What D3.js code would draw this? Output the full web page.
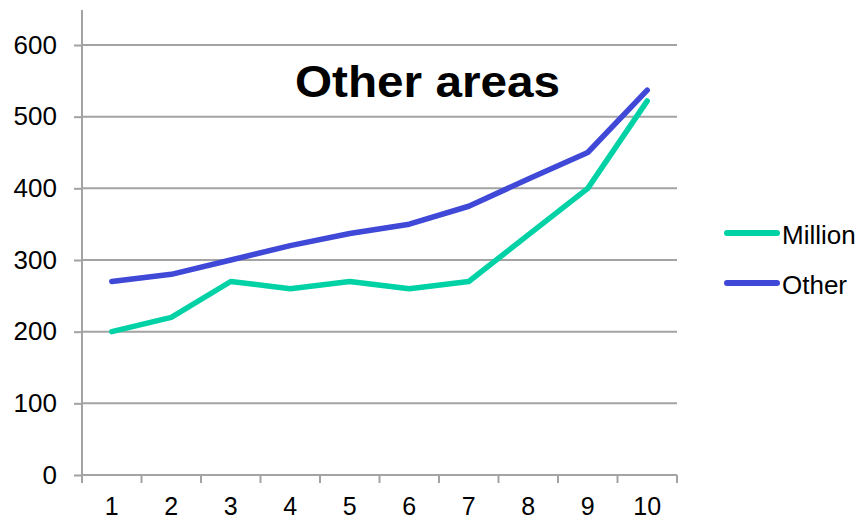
<!DOCTYPE html>
<html>
<head>
<meta charset="utf-8">
<script src="https://cdn.jsdelivr.net/npm/d3@7/dist/d3.min.js"></script>
<style>
  html, body { margin: 0; padding: 0; background: #fff; }
  svg { display: block; font-family: "Liberation Sans", Arial, sans-serif; }
</style>
</head>
<body>
<svg id="chart" width="860" height="522"></svg>
<script>
// Chart data
const categories = ["1", "2", "3", "4", "5", "6", "7", "8", "9", "10"];
const millionValues = [200, 220, 270, 260, 270, 260, 270, 335, 400, 522];
const otherValues = [270, 280, 300, 320, 337, 350, 375, 413, 450, 537];
const yTicks = [0, 100, 200, 300, 400, 500, 600];
const seriesNames = ["Million", "Other"];
const seriesColors = ["#00D2A6", "#3F48D7"];
const titleText = "Other areas";

const svg = d3.select("#chart");
const gridColor = "#A3A3A3";

const plot = { left: 82, right: 677, top: 45, bottom: 475 };

const x = d3.scaleBand()
  .domain(categories)
  .range([plot.left, plot.right])
  .paddingInner(0).paddingOuter(0);

const y = d3.scaleLinear()
  .domain([0, 600])
  .range([plot.bottom, plot.top]);

// Horizontal gridlines
svg.append("g")
  .selectAll("line")
  .data(yTicks.filter(d => d > 0))
  .join("line")
  .attr("x1", plot.left).attr("x2", plot.right)
  .attr("y1", d => y(d)).attr("y2", d => y(d))
  .attr("stroke", gridColor).attr("stroke-width", 2);

// Y axis
const yAxis = svg.append("g")
  .attr("transform", `translate(${plot.left},0)`)
  .call(d3.axisLeft(y).tickValues(yTicks).tickSize(8).tickPadding(17).tickSizeOuter(0));
yAxis.select(".domain").remove();
yAxis.append("line")
  .attr("x1", 0).attr("x2", 0)
  .attr("y1", y(0)).attr("y2", 10)
  .attr("stroke", gridColor).attr("stroke-width", 2);
yAxis.selectAll(".tick line").attr("stroke", gridColor).attr("stroke-width", 2);
yAxis.selectAll(".tick text")
  .attr("fill", "#000").attr("font-size", 26)
  .attr("font-family", "Liberation Sans, Arial, sans-serif");

// X axis: ticks sit on the category boundaries, labels in the band centres
const xAxisG = svg.append("g").attr("transform", `translate(0,${plot.bottom})`);
xAxisG.append("line")
  .attr("x1", plot.left).attr("x2", plot.right)
  .attr("y1", 0).attr("y2", 0)
  .attr("stroke", gridColor).attr("stroke-width", 2);
const boundaries = categories.map(c => x(c)).concat([x(categories[categories.length - 1]) + x.bandwidth()]);
xAxisG.selectAll("line.tick")
  .data(boundaries)
  .join("line")
  .attr("class", "tick")
  .attr("x1", d => d).attr("x2", d => d)
  .attr("y1", 0).attr("y2", 8)
  .attr("stroke", gridColor).attr("stroke-width", 2);
xAxisG.selectAll("text")
  .data(categories)
  .join("text")
  .attr("x", d => x(d) + x.bandwidth() / 2)
  .attr("y", 40)
  .attr("text-anchor", "middle")
  .attr("font-size", 25)
  .attr("fill", "#000")
  .text(d => d);

// Lines
const lineGen = d3.line()
  .x((d, i) => x(categories[i]) + x.bandwidth() / 2)
  .y(d => y(d));

const seriesData = [millionValues, otherValues];
svg.append("g")
  .selectAll("path")
  .data(seriesData)
  .join("path")
  .attr("d", d => lineGen(d))
  .attr("fill", "none")
  .attr("stroke", (d, i) => seriesColors[i])
  .attr("stroke-width", 5.5)
  .attr("stroke-linejoin", "round")
  .attr("stroke-linecap", "round");

// Title
svg.append("text")
  .attr("x", 295).attr("y", 97)
  .attr("font-size", 44)
  .attr("font-weight", "bold")
  .attr("textLength", 265)
  .attr("lengthAdjust", "spacingAndGlyphs")
  .attr("fill", "#000")
  .text(titleText);

// Legend
const legend = svg.append("g");
const legendY = [233, 283];
seriesNames.forEach((name, i) => {
  legend.append("line")
    .attr("x1", 727).attr("x2", 777)
    .attr("y1", legendY[i]).attr("y2", legendY[i])
    .attr("stroke", seriesColors[i])
    .attr("stroke-width", 6)
    .attr("stroke-linecap", "round");
  legend.append("text")
    .attr("x", 782).attr("y", legendY[i] + 11)
    .attr("font-size", 26)
    .attr("fill", "#000")
    .text(name);
});
</script>
</body>
</html>
